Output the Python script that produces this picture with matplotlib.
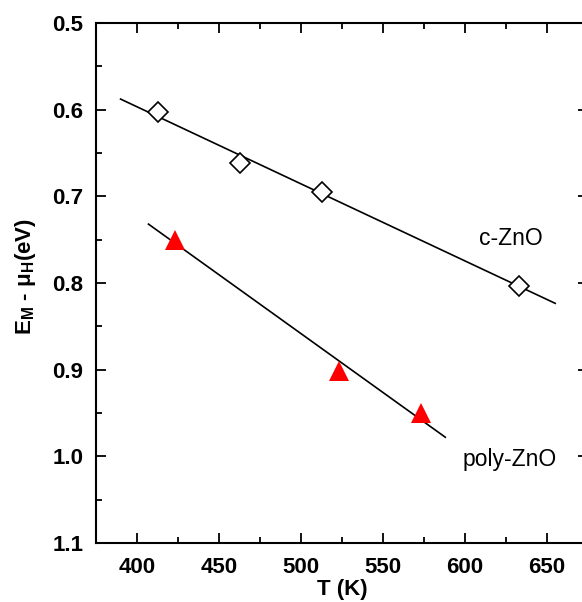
import numpy as np
import matplotlib as mpl
import matplotlib.pyplot as plt
from matplotlib.ticker import MultipleLocator

mpl.use('agg')

plt.rcParams['font.family'] = ['Liberation Sans', 'DejaVu Sans']
plt.rcParams['mathtext.fontset'] = 'custom'
plt.rcParams['mathtext.rm'] = 'Liberation Sans'
plt.rcParams['mathtext.bf'] = 'Liberation Sans:bold'
plt.rcParams['mathtext.it'] = 'Liberation Sans:italic'

# measured points: temperature (K) vs E_M - mu_H (eV)
t_czno = [413, 463, 513, 633]
e_czno = [0.603, 0.661, 0.695, 0.803]
t_poly = [423, 523, 573]
e_poly = [0.750, 0.901, 0.950]

# ranges over which the linear fits are drawn
fit_range_czno = [390, 655]
fit_range_poly = [407, 588]

fig = plt.figure(figsize=(5.82, 6.02), dpi=100)
ax = fig.add_axes([0.1649, 0.098, 0.8454, 0.8638])

# linear fits through each data set
for t, e, rng in [(t_czno, e_czno, fit_range_czno), (t_poly, e_poly, fit_range_poly)]:
    k, b = np.polyfit(t, e, 1)
    xs = np.array(rng)
    ax.plot(xs, k * xs + b, color='black', lw=1.2, zorder=2)

ax.plot(t_czno, e_czno, linestyle='none', marker='D', ms=10, mfc='white',
        mec='black', mew=1.2, zorder=3)
ax.plot(t_poly, e_poly, linestyle='none', marker='^', ms=14.5, mfc='red',
        mec='red', mew=0, zorder=3)

ax.text(628, 0.749, 'c-ZnO', fontsize=16.5, ha='center', va='center')
ax.text(627, 1.004, 'poly-ZnO', fontsize=16.5, ha='center', va='center')

ax.set_xlim(375, 675)
ax.set_ylim(1.1, 0.5)
ax.xaxis.set_major_locator(MultipleLocator(50))
ax.xaxis.set_minor_locator(MultipleLocator(25))
ax.yaxis.set_major_locator(MultipleLocator(0.1))
ax.yaxis.set_minor_locator(MultipleLocator(0.05))
ax.yaxis.set_major_formatter(mpl.ticker.FormatStrFormatter('%.1f'))

for s in ax.spines.values():
    s.set_linewidth(1.5)
ax.tick_params(which='both', direction='in', top=True, right=True, width=1.3)
ax.tick_params(which='major', length=7.5, labelsize=16)
ax.tick_params(axis='x', which='major', pad=10)
ax.tick_params(axis='y', which='major', pad=9)
ax.tick_params(which='minor', length=4)
for lbl in ax.get_xticklabels() + ax.get_yticklabels():
    lbl.set_fontweight('bold')

ax.set_xlabel('T (K)', fontsize=16, fontweight='bold', labelpad=1)
ax.set_ylabel(r'$\mathbf{E_M}$ - $\mathbf{\mu_H}$(eV)', fontsize=16,
              fontweight='bold')
ax.yaxis.set_label_coords(-0.118, 0.512)

fig.savefig('out.png', dpi=100)
